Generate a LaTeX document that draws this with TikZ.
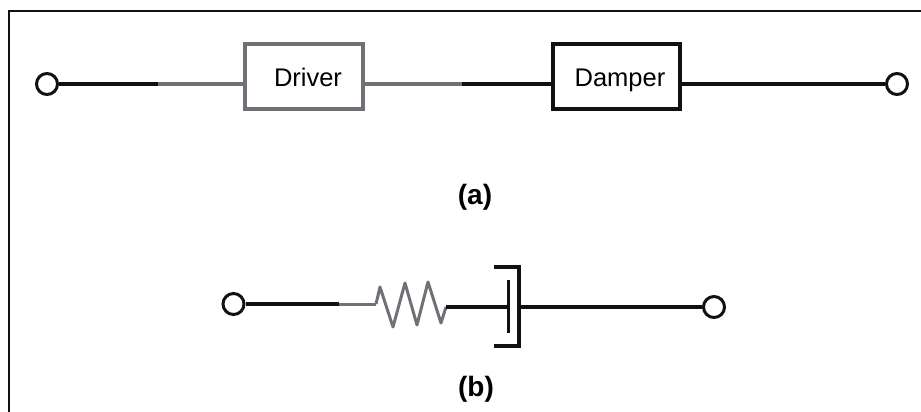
\documentclass[tikz,border=0pt]{standalone}
\usepackage{fontspec}
\setmainfont{Liberation Sans}
\definecolor{wire}{HTML}{111111}
\definecolor{greyline}{HTML}{6E7276}
\tikzset{
  x=1pt,y=-1pt,
  blk/.style={draw=wire,line width=3.6pt},
  gry/.style={draw=greyline,line width=3.4pt},
  thinwire/.style={draw=wire,line width=3.2pt},
  term/.style={circle,draw=wire,line width=3pt,fill=white,inner sep=0pt,minimum size=21pt},
  boxed/.style={rectangle,line width=3.6pt,fill=white,inner sep=0pt,text height=21pt,text depth=0pt,font=\fontsize{25.5}{28}\selectfont},
  figlabel/.style={font=\bfseries\fontsize{28}{32}\selectfont,inner sep=0pt}
}
\begin{document}
\begin{tikzpicture}
\useasboundingbox (0,0) rectangle (921,412);
\coordinate (fbl) at (9,412);
\coordinate (ftl) at (9,11);
\coordinate (ftr) at (921,11);
\draw[wire,line width=2.4pt] (fbl) -- (ftl) -- (ftr);
% (a)
\coordinate (j1) at (158,84);
\coordinate (j2) at (462,84);
\node[term] (t1) at (47,84) {};
\node[term] (t2) at (897,84) {};
\node[boxed,draw=greyline,minimum width=118pt,minimum height=65pt] (driver) at (304,76.5) {\hspace*{8pt}Driver};
\node[boxed,draw=wire,minimum width=127pt,minimum height=65pt] (damper) at (616.5,76.5) {\hspace*{7pt}Damper};
\draw[blk] (t1) -- (j1);
\draw[gry] (j1) -- (driver.west |- j1);
\draw[gry] (driver.east |- j2) -- (j2);
\draw[blk] (j2) -- (damper.west |- j2);
\draw[blk] (damper.east |- t2) -- (t2);
\node[figlabel] (la) at (475,197.5) {(a)};
% (b)
\node[term] (t3) at (233.5,304) {};
\node[term] (t4) at (714,307) {};
\coordinate (k1) at (339,304);
\coordinate (r1) at (376,304);
\coordinate (r2) at (446,307);
\coordinate (p1) at (508,307);
\coordinate (c1) at (519,307);
\draw[thinwire] (t3) -- (k1);
\draw[greyline,line width=3pt] (k1) -- (r1);
\draw[greyline,line width=3pt,line join=round] (r1) -- (380,287) -- (393,327) -- (405,283) -- (417,325) -- (428,282) -- (441,323) -- (r2);
\draw[thinwire] (r2) -- (p1);
\draw[blk,line width=3pt] (508,280) -- (508,333);
\draw[blk,line width=3.2pt] (494,267) -- (519,267) -- (519,346) -- (494,346);
\draw[thinwire] (c1) -- (t4);
\node[figlabel] (lb) at (476,389) {(b)};
\end{tikzpicture}
\end{document}
